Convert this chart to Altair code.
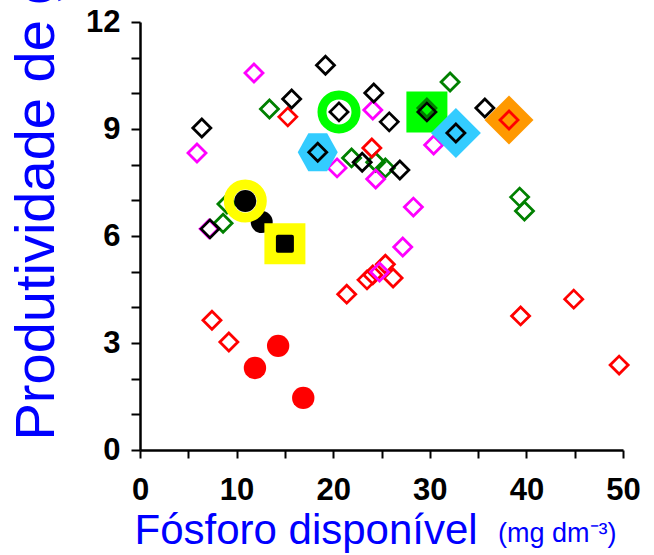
import altair as alt
import pandas as pd

# Produtividade (eixo y) em função do fósforo disponível (eixo x), por grupo
verde_x = [13.4, 21.9, 24.4, 25.4, 32.1, 29.7, 39.3, 39.8, 8.6, 9.0]
verde_y = [9.56, 8.19, 8.07, 7.91, 10.32, 9.59, 7.09, 6.70, 6.36, 6.90]

vermelho_x = [7.45, 9.2, 15.3, 24.0, 21.4, 23.5, 24.1, 25.4, 26.2, 38.2, 39.4, 44.9, 49.6]
vermelho_y = [3.64, 3.03, 9.34, 8.47, 4.37, 4.77, 4.91, 5.21, 4.82, 9.25, 3.76, 4.23, 2.38]

magenta_x = [11.8, 5.9, 24.1, 20.4, 24.4, 28.3, 27.2, 24.8, 30.4, 7.15]
magenta_y = [10.57, 8.33, 9.53, 7.91, 7.60, 6.81, 5.69, 4.99, 8.55, 6.20]

preto_x = [6.4, 15.7, 19.2, 20.6, 18.4, 23.0, 24.2, 25.8, 29.7, 32.7, 35.7, 26.9, 7.25]
preto_y = [9.03, 9.84, 10.79, 9.48, 8.35, 8.07, 10.01, 9.20, 9.48, 8.89, 9.59, 7.85, 6.20]

# grupos com marcadores cheios
vermelho_cheio_x = [11.9, 14.3, 16.9]
vermelho_cheio_y = [2.30, 2.92, 1.46]
preto_cheio_x = [10.9, 12.6]
preto_cheio_y = [6.98, 6.39]
preto_quadrado_x = [15.0]
preto_quadrado_y = [5.78]

# pontos em destaque: (grupo, índice no grupo)
destaques = [
    ("preto", 3),
    ("preto", 4),
    ("preto", 8),
    ("preto", 9),
    ("vermelho", 9),
    ("preto_cheio", 0),
    ("preto_quadrado", 0),
]

# aparência de cada destaque, na mesma ordem
HEXAGONO = "M-1,0L-0.47,-0.95L0.47,-0.95L1,0L0.47,0.95L-0.47,0.95Z"
estilos_destaque = [
    dict(shape="circle", filled=False, color="#00FF00", size=1156, strokeWidth=9),
    dict(shape=HEXAGONO, filled=True, color="#33CCFF", size=1600),
    dict(shape="square", filled=True, color="#00FF00", size=1681),
    dict(shape="diamond", filled=True, color="#33CCFF", size=2500),
    dict(shape="diamond", filled=True, color="#FF9900", size=2401),
    dict(shape="circle", filled=False, color="#FFFF00", size=1089, strokeWidth=10),
    dict(shape="square", filled=True, color="#FFFF00", size=1681),
]

grupos = {
    "verde": (verde_x, verde_y),
    "vermelho": (vermelho_x, vermelho_y),
    "magenta": (magenta_x, magenta_y),
    "preto": (preto_x, preto_y),
    "vermelho_cheio": (vermelho_cheio_x, vermelho_cheio_y),
    "preto_cheio": (preto_cheio_x, preto_cheio_y),
    "preto_quadrado": (preto_quadrado_x, preto_quadrado_y),
}
abertos = ["verde", "vermelho", "magenta", "preto"]
cores = {"verde": "#008000", "vermelho": "#FF0000", "magenta": "#FF00FF", "preto": "#000000"}

centros = [(grupos[g][0][i], grupos[g][1][i]) for g, i in destaques]


def sobre_destaque(x, y):
    return any(abs(x - cx) < 0.3 and abs(y - cy) < 0.25 for cx, cy in centros)


linhas = []
for ordem, (g, (xs, ys)) in enumerate(grupos.items()):
    for x, y in zip(xs, ys):
        linhas.append(dict(x=x, y=y, grupo=g, ordem=ordem, topo=sobre_destaque(x, y)))
pontos = pd.DataFrame(linhas)

hl = pd.DataFrame(
    [dict(x=cx, y=cy, id=k) for k, (cx, cy) in enumerate(centros)]
)

FONTE = "Liberation Sans"
AZUL = "#0000FF"

eixo_x = alt.X(
    "x:Q",
    scale=alt.Scale(domain=[0, 50], nice=False, zero=True),
    axis=alt.Axis(
        values=list(range(0, 51, 5)),
        labelExpr="datum.value % 10 == 0 ? datum.label : ''",
        grid=False,
        domainColor="black", domainWidth=2.5,
        tickColor="black", tickWidth=2, tickSize=8,
        labelFont=FONTE, labelFontSize=31, labelFontWeight="bold", labelColor="black",
        labelPadding=17, labelFlush=False,
        title="Fósforo disponível",
        titleFont=FONTE, titleFontSize=42, titleFontWeight="normal", titleColor=AZUL,
        titleAlign="left", titleBaseline="alphabetic", titleX=-6, titleY=93,
    ),
)
eixo_y = alt.Y(
    "y:Q",
    scale=alt.Scale(domain=[0, 12], nice=False, zero=True),
    axis=alt.Axis(
        values=list(range(0, 13)),
        labelExpr="datum.value % 3 == 0 ? datum.label : ''",
        grid=False,
        domainColor="black", domainWidth=2.5,
        tickColor="black", tickWidth=2, tickSize=9,
        labelFont=FONTE, labelFontSize=31, labelFontWeight="bold", labelColor="black",
        labelPadding=11, labelFlush=False,
        title="Produtividade de grãos (t ha⁻¹)",
        titleFont=FONTE, titleFontSize=56, titleFontWeight="normal", titleColor=AZUL,
        titleAngle=270, titleAlign="left", titleBaseline="alphabetic",
        titleX=-87, titleY=418,
    ),
)

cor_grupo = alt.Color(
    "grupo:N",
    scale=alt.Scale(domain=abertos, range=[cores[g] for g in abertos]),
    legend=None,
)


def losangos(topo):
    return (
        alt.Chart(pontos)
        .transform_filter(alt.FieldOneOfPredicate(field="grupo", oneOf=abertos))
        .transform_filter(alt.datum.topo == topo)
        .mark_point(shape="diamond", filled=False, size=324, strokeWidth=2.8, opacity=1)
        .encode(x=eixo_x, y=eixo_y, color=cor_grupo, order=alt.Order("ordem:Q"))
    )


def cheios(grupo, topo, **estilo):
    base = alt.Chart(pontos).transform_filter(alt.datum.grupo == grupo).transform_filter(
        alt.datum.topo == topo
    )
    return base.mark_point(opacity=1, **estilo).encode(x=eixo_x, y=eixo_y)


camadas = [
    losangos(False),
    cheios("vermelho_cheio", False, shape="circle", filled=True, color="#FF0000", size=500),
    cheios("preto_cheio", False, shape="circle", filled=True, color="#000000", size=484),
]

for k, estilo in enumerate(estilos_destaque):
    camadas.append(
        alt.Chart(hl)
        .transform_filter(alt.datum.id == k)
        .mark_point(opacity=1, **estilo)
        .encode(x=eixo_x, y=eixo_y)
    )

camadas += [
    losangos(True),
    cheios("preto_cheio", True, shape="circle", filled=True, color="#000000", size=484),
    cheios("preto_quadrado", True, shape="square", filled=True, color="#000000",
           size=196, stroke="#000000", strokeWidth=4, strokeJoin="round"),
]

# unidade do eixo x, em corpo menor
unidade = (
    alt.Chart(pd.DataFrame({"t": ["(mg dm⁻³)"]}))
    .mark_text(font=FONTE, fontSize=27, color=AZUL, align="left", baseline="alphabetic")
    .encode(x=alt.value(358), y=alt.value(520), text="t:N")
)
camadas.append(unidade)

chart = (
    alt.layer(*camadas)
    .properties(
        width=483,
        height=428,
        autosize=alt.AutoSizeParams(type="none"),
        padding={"left": 140, "top": 22, "right": 31, "bottom": 105},
    )
    .configure_view(stroke=None)
)

chart.save("out.html", embed_options={"renderer": "svg", "actions": False})
